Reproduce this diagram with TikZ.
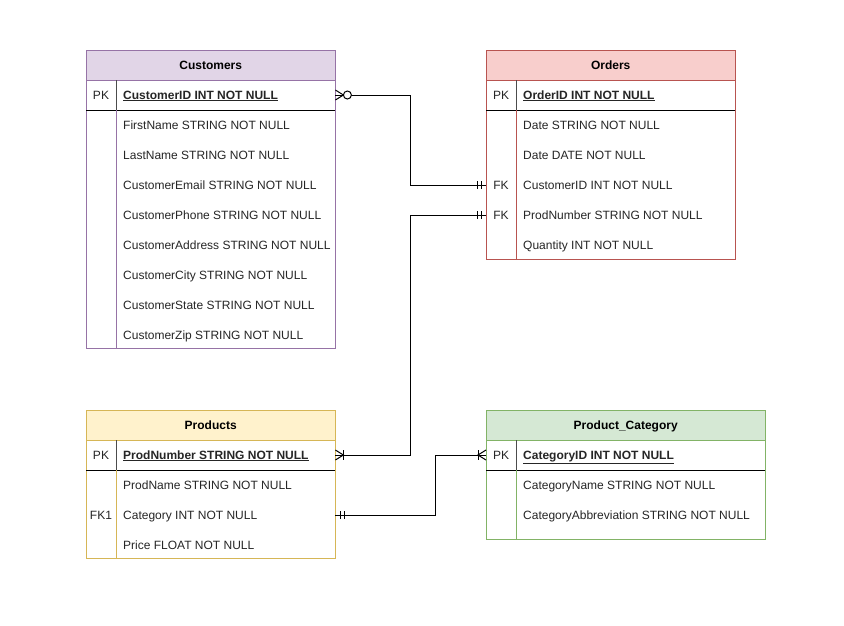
\documentclass[tikz,border=0pt]{standalone}
\usepackage{fontspec}
\setmainfont{Liberation Sans}
\usetikzlibrary{positioning,calc}
\definecolor{custfill}{HTML}{E1D5E7}\definecolor{custline}{HTML}{9673A6}
\definecolor{ordfill}{HTML}{F8CECC}\definecolor{ordline}{HTML}{B85450}
\definecolor{prodfill}{HTML}{FFF2CC}\definecolor{prodline}{HTML}{D6B656}
\definecolor{catfill}{HTML}{D5E8D4}\definecolor{catline}{HTML}{82B366}
\newcommand{\erfont}{\fontsize{12}{14}\selectfont}
\tikzset{
  tblhead/.style={draw=#1line, fill=#1fill, minimum height=30pt, anchor=north west, inner sep=0pt, text height=10pt, text depth=2pt, font=\erfont\bfseries},
  tblrow/.style={minimum height=30pt, anchor=west, inner sep=0pt},
  keytext/.style={anchor=center, inner sep=0pt, text height=10pt, text depth=2pt, font=\erfont, text=black!85},
  fieldtext/.style={anchor=west, inner sep=0pt, text height=10pt, text depth=2pt, font=\erfont, text=black!85},
  pkfield/.style={fieldtext, font=\erfont\bfseries},
  rel/.style={draw=black, line width=1pt},
}
% #1 name, #2 colour, #3 x, #4 y, #5 width, #6 bottom, #7 title, #8 key field, #9 rows
\newcommand{\ertable}[9]{
  \node[tblhead=#2, minimum width=#5pt] (#1) at (#3,#4) {#7};
  \draw[#2line] (#1.south west) rectangle (#3+#5,#6);
  \draw[black] (#3,#4+60) -- (#3+#5,#4+60);
  \draw[black!70] (#3+30,#4+30) -- (#3+30,#4+60);
  \draw[#2line] (#3+30,#4+60) -- (#3+30,#6);
  \node[tblrow, minimum width=#5pt] (#1-0) at (#3,#4+45) {};
  \node[keytext] at (#3+15,#4+45) {PK};
  \node[pkfield] at (#3+37,#4+45) {\underline{#8}};
  \foreach \i/\k/\f in {#9}{
    \pgfmathsetmacro\rowy{#4+45+30*\i}
    \node[tblrow, minimum width=#5pt] (#1-\i) at (#3,\rowy) {};
    \node[keytext] at (#3+15,\rowy) {\k};
    \node[fieldtext] at (#3+37,\rowy) {\f};
  }
}
% crow's foot marks, #2 = +1 going right, -1 going left
\newcommand{\onemark}[2]{
  \draw[rel] ([xshift=#2*5pt]#1) ++(0,-4) -- ++(0,8);
  \draw[rel] ([xshift=#2*9pt]#1) ++(0,-4) -- ++(0,8);
}
\newcommand{\manymark}[2]{
  \draw[rel] ([yshift=5pt]#1) -- ([xshift=#2*8pt]#1) -- ([yshift=-5pt]#1);
}

\begin{document}
\begin{tikzpicture}[x=1pt,y=-1pt]
\fill[white] (0,0) rectangle (844,625);
\useasboundingbox (0,0) rectangle (844,625);

\ertable{cust}{cust}{86}{50}{249}{348}{Customers}{CustomerID INT NOT NULL}{
  1//FirstName STRING NOT NULL, 2//LastName STRING NOT NULL,
  3//CustomerEmail STRING NOT NULL, 4//CustomerPhone STRING NOT NULL,
  5//CustomerAddress STRING NOT NULL, 6//CustomerCity STRING NOT NULL,
  7//CustomerState STRING NOT NULL, 8//CustomerZip STRING NOT NULL}
\ertable{ord}{ord}{486}{50}{249}{259}{Orders}{OrderID INT NOT NULL}{
  1//Date STRING NOT NULL, 2//Date DATE NOT NULL,
  3/FK/CustomerID INT NOT NULL, 4/FK/ProdNumber STRING NOT NULL,
  5//Quantity INT NOT NULL}
\ertable{prod}{prod}{86}{410}{249}{558}{Products}{ProdNumber STRING NOT NULL}{
  1//ProdName STRING NOT NULL, 2/FK1/Category INT NOT NULL,
  3//Price FLOAT NOT NULL}
\ertable{cat}{cat}{486}{410}{279}{539}{Product\_Category}{CategoryID INT NOT NULL}{
  1//CategoryName STRING NOT NULL, 2//CategoryAbbreviation STRING NOT NULL}

% relations
\draw[rel] (cust-0.east) -- ++(75,0) |- (ord-3.west);
\manymark{cust-0.east}{1}
\draw[rel, fill=white] ([xshift=12pt]cust-0.east) circle (4);
\onemark{ord-3.west}{-1}

\draw[rel] (ord-4.west) -- ++(-76,0) |- (prod-0.east);
\onemark{ord-4.west}{-1}
\manymark{prod-0.east}{1}
\draw[rel] ([xshift=8pt]prod-0.east) ++(0,-5) -- ++(0,10);

\draw[rel] (cat-0.west) -- ++(-51,0) |- (prod-2.east);
\manymark{cat-0.west}{-1}
\draw[rel] ([xshift=-8pt]cat-0.west) ++(0,-5) -- ++(0,10);
\onemark{prod-2.east}{1}
\end{tikzpicture}
\end{document}
